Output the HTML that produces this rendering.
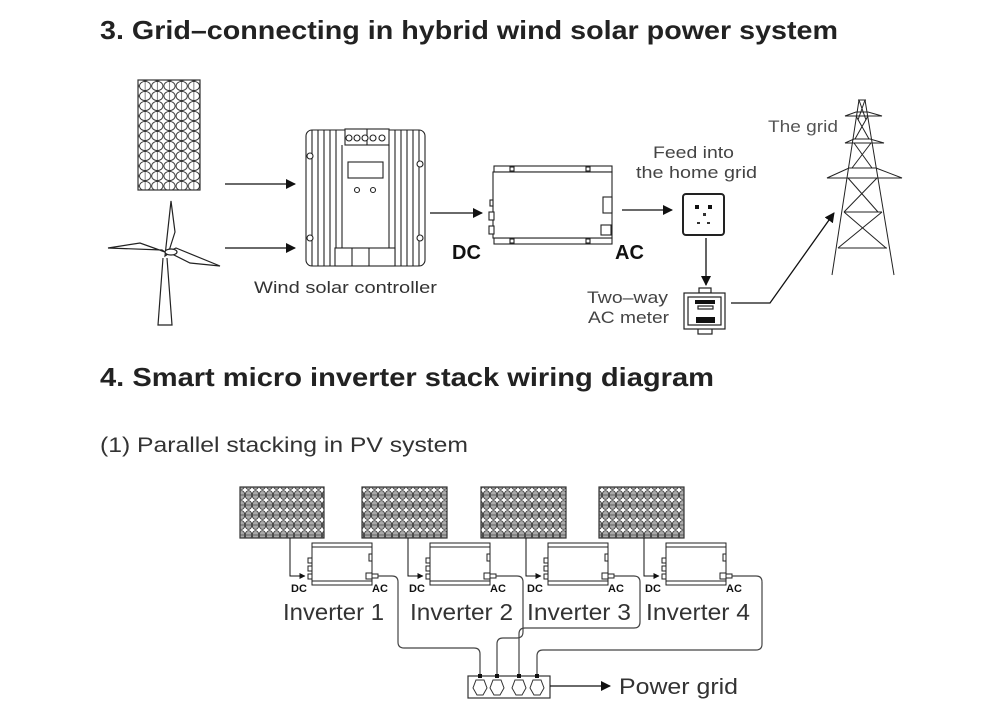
<!DOCTYPE html>
<html><head><meta charset="utf-8"><style>
html,body{margin:0;padding:0;background:#fff;}
svg{display:block;font-family:"Liberation Sans",sans-serif;}
</style></head><body>
<svg width="1000" height="723" viewBox="0 0 1000 723" xmlns="http://www.w3.org/2000/svg">
<defs>
<pattern id="cellT" x="139" y="81" width="12.2" height="10" patternUnits="userSpaceOnUse">
<rect width="12.2" height="10" fill="#fff"/>
<ellipse cx="6.1" cy="5" rx="5.6" ry="4.6" fill="none" stroke="#333" stroke-width="0.9"/>
<line x1="6.1" y1="0" x2="6.1" y2="10" stroke="#333" stroke-width="0.6"/>
</pattern>
<pattern id="cellB" x="0" y="0" width="7" height="10" patternUnits="userSpaceOnUse">
<rect width="7" height="10" fill="#fff"/>
<ellipse cx="3.5" cy="5" rx="3.3" ry="4.4" fill="#aaa" stroke="#333" stroke-width="0.8"/>
<line x1="0" y1="5" x2="7" y2="5" stroke="#333" stroke-width="0.6"/>
</pattern>
<marker id="ah" markerWidth="10" markerHeight="10" refX="9" refY="5" orient="auto" markerUnits="userSpaceOnUse">
<path d="M0,0 L10,5 L0,10 z" fill="#111"/>
</marker>
<marker id="ahs" markerWidth="6" markerHeight="6" refX="5.5" refY="3" orient="auto" markerUnits="userSpaceOnUse">
<path d="M0,0 L6,3 L0,6 z" fill="#111"/>
</marker>
</defs>

<text x="100" y="39" font-size="26" font-weight="bold" fill="#222" textLength="738" lengthAdjust="spacingAndGlyphs">3. Grid–connecting in hybrid wind solar power system</text>
<text x="100" y="386" font-size="26" font-weight="bold" fill="#222" textLength="614" lengthAdjust="spacingAndGlyphs">4. Smart micro inverter stack wiring diagram</text>
<text x="100" y="452" font-size="21" fill="#333" textLength="368" lengthAdjust="spacingAndGlyphs">(1) Parallel stacking in PV system</text>

<rect x="138" y="80" width="62" height="110" fill="url(#cellT)" stroke="#333" stroke-width="1.2"/>

<g stroke="#222" stroke-width="1.2" fill="#fff">
<path d="M163,258 L158,325 L172,325 L167,258"/>
<path d="M165,256 L171,201 L175,232 L168,254 z"/>
<path d="M165,252 L140,243 L108,248 L162,250 z"/>
<path d="M168,252 L190,263 L220,266 L176,248 z"/>
<ellipse cx="171" cy="252" rx="6" ry="3"/>
</g>

<line x1="225" y1="184" x2="295" y2="184" stroke="#111" stroke-width="1.3" marker-end="url(#ah)"/>
<line x1="225" y1="248" x2="295" y2="248" stroke="#111" stroke-width="1.3" marker-end="url(#ah)"/>

<g stroke="#222" stroke-width="1.1" fill="none">
<rect x="306" y="130" width="119" height="136" rx="6" fill="#fff"/>
<rect x="345" y="129" width="44" height="16" fill="#fff"/>
<line x1="367" y1="129" x2="367" y2="145"/>
<g fill="#fff"><circle cx="349" cy="138" r="3"/><circle cx="357" cy="138" r="3"/><circle cx="365" cy="138" r="3"/><circle cx="373" cy="138" r="3"/><circle cx="382" cy="138" r="3"/></g>
<line x1="312" y1="130" x2="312" y2="266"/><line x1="318" y1="130" x2="318" y2="266"/><line x1="324" y1="130" x2="324" y2="266"/><line x1="330" y1="130" x2="330" y2="266"/><line x1="336" y1="130" x2="336" y2="266"/><line x1="342" y1="145" x2="342" y2="248"/>
<line x1="389" y1="145" x2="389" y2="248"/><line x1="395" y1="130" x2="395" y2="266"/><line x1="401" y1="130" x2="401" y2="266"/><line x1="407" y1="130" x2="407" y2="266"/><line x1="413" y1="130" x2="413" y2="266"/><line x1="419" y1="130" x2="419" y2="266"/>
<rect x="348" y="162" width="35" height="16" fill="#fff"/>
<circle cx="357" cy="190" r="2.5"/><circle cx="373" cy="190" r="2.5"/>
<rect x="335" y="248" width="60" height="18" fill="#fff"/>
<line x1="352" y1="248" x2="352" y2="266"/><line x1="369" y1="248" x2="369" y2="266"/>
<circle cx="310" cy="156" r="3" fill="#fff"/><circle cx="420" cy="164" r="3" fill="#fff"/>
<circle cx="310" cy="238" r="3" fill="#fff"/><circle cx="420" cy="238" r="3" fill="#fff"/>
</g>
<text x="254" y="293" font-size="17" fill="#333" textLength="183" lengthAdjust="spacingAndGlyphs">Wind solar controller</text>

<line x1="430" y1="213" x2="482" y2="213" stroke="#111" stroke-width="1.3" marker-end="url(#ah)"/>

<g stroke="#222" stroke-width="1.1" fill="#fff">
<rect x="494" y="166" width="118" height="6"/>
<rect x="494" y="238" width="118" height="6"/>
<rect x="493" y="172" width="119" height="66"/>
<rect x="489" y="212" width="5" height="8"/>
<rect x="489" y="226" width="5" height="8"/>
<rect x="490" y="200" width="3" height="6"/>
<rect x="603" y="197" width="9" height="16"/>
<rect x="601" y="225" width="10" height="10"/>
<rect x="510" y="167" width="4" height="4"/><rect x="586" y="167" width="4" height="4"/>
<rect x="510" y="239" width="4" height="4"/><rect x="586" y="239" width="4" height="4"/>
</g>
<text x="452" y="259" font-size="20" font-weight="bold" fill="#111">DC</text>
<text x="615" y="259" font-size="20" font-weight="bold" fill="#111">AC</text>

<line x1="622" y1="210" x2="672" y2="210" stroke="#111" stroke-width="1.3" marker-end="url(#ah)"/>
<text x="653" y="158" font-size="17" fill="#444" textLength="81" lengthAdjust="spacingAndGlyphs">Feed into</text>
<text x="636" y="178" font-size="17" fill="#444" textLength="121" lengthAdjust="spacingAndGlyphs">the home grid</text>

<rect x="683" y="194" width="41" height="41" rx="3" fill="#fff" stroke="#222" stroke-width="2"/>
<rect x="695" y="205" width="4" height="4" fill="#111"/><rect x="708" y="205" width="4" height="4" fill="#111"/>
<rect x="703" y="213" width="3" height="3" fill="#333"/>
<rect x="697" y="222" width="3" height="2" fill="#333"/><rect x="707" y="222" width="3" height="2" fill="#333"/>

<line x1="706" y1="238" x2="706" y2="285" stroke="#111" stroke-width="1.3" marker-end="url(#ah)"/>

<g stroke="#222" stroke-width="1.2" fill="#fff">
<rect x="699" y="288" width="12" height="5"/>
<rect x="698" y="328" width="14" height="6"/>
<rect x="684" y="293" width="41" height="36"/>
<rect x="688" y="297" width="33" height="28"/>
<rect x="698" y="306" width="15" height="3"/>
</g>
<rect x="695" y="300" width="20" height="4" fill="#111"/>
<rect x="696" y="317" width="19" height="6" fill="#111"/>
<text x="587" y="303" font-size="17" fill="#444" textLength="81" lengthAdjust="spacingAndGlyphs">Two–way</text>
<text x="588" y="323" font-size="17" fill="#444" textLength="81" lengthAdjust="spacingAndGlyphs">AC meter</text>

<polyline points="731,303 770,303 834,213" fill="none" stroke="#111" stroke-width="1.3" marker-end="url(#ah)"/>

<text x="768" y="132" font-size="17" fill="#555" textLength="70" lengthAdjust="spacingAndGlyphs">The grid</text>
<g stroke="#222" stroke-width="1" fill="none">
<line x1="858" y1="100" x2="866" y2="100"/>
<line x1="859" y1="100" x2="832" y2="275"/>
<line x1="865" y1="100" x2="894" y2="275"/>
<line x1="859" y1="100" x2="866" y2="120"/><line x1="865" y1="100" x2="858" y2="120"/>
<path d="M845,116 L856,112 L868,112 L882,116 Z"/>
<path d="M845,143 L854,139 L870,139 L884,143 Z"/>
<path d="M827,178 L849,168 L876,168 L902,178 Z"/>
<line x1="856" y1="116" x2="869" y2="139"/><line x1="868" y1="116" x2="855" y2="139"/>
<line x1="854" y1="143" x2="872" y2="168"/><line x1="871" y1="143" x2="852" y2="168"/>
<line x1="848" y1="178" x2="878" y2="212"/><line x1="877" y1="178" x2="844" y2="212"/>
<line x1="844" y1="212" x2="882" y2="212"/>
<line x1="844" y1="212" x2="886" y2="248"/><line x1="882" y1="212" x2="838" y2="248"/>
<line x1="838" y1="248" x2="887" y2="248"/>
</g>

<g stroke="#333" stroke-width="1.2">
<rect x="240" y="487" width="84" height="51" fill="url(#cellB)"/>
<rect x="362" y="487" width="85" height="51" fill="url(#cellB)"/>
<rect x="481" y="487" width="85" height="51" fill="url(#cellB)"/>
<rect x="599" y="487" width="85" height="51" fill="url(#cellB)"/>
</g>

<g id="inv1">
<g stroke="#222" stroke-width="1" fill="#fff">
<rect x="312" y="543" width="60" height="42"/>
<line x1="312" y1="547" x2="372" y2="547"/><line x1="312" y1="581" x2="372" y2="581"/>
<rect x="308" y="558" width="4" height="5"/><rect x="308" y="566" width="4" height="5"/><rect x="308" y="574" width="4" height="5"/>
<rect x="369" y="554" width="3" height="7"/>
<rect x="366" y="573" width="6" height="6"/><rect x="372" y="574" width="6" height="4"/>
</g>
<polyline points="290,538 290,576 305,576" fill="none" stroke="#111" stroke-width="1" marker-end="url(#ahs)"/>
<text x="291" y="592" font-size="11" font-weight="bold" fill="#111">DC</text>
<text x="372" y="592" font-size="11" font-weight="bold" fill="#111">AC</text>
</g>
<use href="#inv1" x="118"/>
<use href="#inv1" x="236"/>
<use href="#inv1" x="354"/>

<g font-size="23" fill="#333">
<text x="283" y="620" textLength="101" lengthAdjust="spacingAndGlyphs">Inverter 1</text>
<text x="410" y="620" textLength="103" lengthAdjust="spacingAndGlyphs">Inverter 2</text>
<text x="527" y="620" textLength="104" lengthAdjust="spacingAndGlyphs">Inverter 3</text>
<text x="646" y="620" textLength="104" lengthAdjust="spacingAndGlyphs">Inverter 4</text>
</g>

<g fill="none" stroke="#444" stroke-width="1.2">
<path d="M378,576 L392,576 Q398,576 398,582 L398,642 Q398,648 404,648 L474,648 Q480,648 480,654 L480,676"/>
<path d="M496,576 L517,576 Q523,576 523,582 L523,632 Q523,638 517,638 L503,638 Q497,638 497,644 L497,676"/>
<path d="M614,576 L634,576 Q640,576 640,582 L640,622 Q640,628 634,628 L525,628 Q519,628 519,634 L519,676"/>
<path d="M732,576 L756,576 Q762,576 762,582 L762,644 Q762,650 756,650 L543,650 Q537,650 537,656 L537,676"/>
</g>

<rect x="468" y="676" width="82" height="22" fill="#fff" stroke="#333" stroke-width="1.2"/>
<g fill="#111"><rect x="478" y="674" width="4" height="4"/><rect x="495" y="674" width="4" height="4"/><rect x="517" y="674" width="4" height="4"/><rect x="535" y="674" width="4" height="4"/></g>
<g fill="#fff" stroke="#333" stroke-width="1">
<path d="M476,680 L484,680 L487,688 L483,695 L477,695 L473,688 Z"/>
<path d="M493,680 L501,680 L504,688 L500,695 L494,695 L490,688 Z"/>
<path d="M515,680 L523,680 L526,688 L522,695 L516,695 L512,688 Z"/>
<path d="M533,680 L541,680 L544,688 L540,695 L534,695 L530,688 Z"/>
</g>
<line x1="550" y1="686" x2="610" y2="686" stroke="#111" stroke-width="1.3" marker-end="url(#ah)"/>
<text x="619" y="694" font-size="22" fill="#333" textLength="119" lengthAdjust="spacingAndGlyphs">Power grid</text>
</svg>
</body></html>
